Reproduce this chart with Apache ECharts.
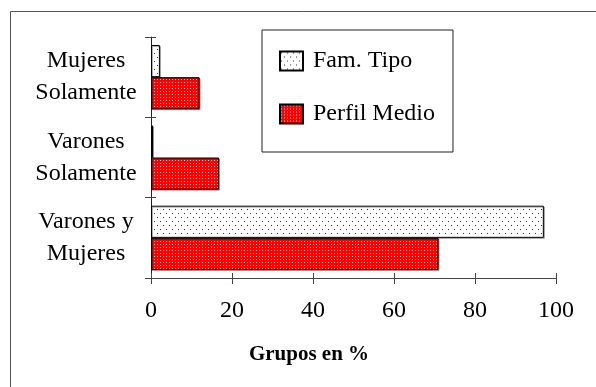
<!DOCTYPE html>
<html>
<head>
<meta charset="utf-8">
<script src="https://cdn.jsdelivr.net/npm/echarts@6/dist/echarts.min.js"></script>
<style>
  html, body { margin: 0; padding: 0; background: #fff; }
  #chart { width: 596px; height: 387px; }
</style>
</head>
<body>
<div id="chart"></div>
<script>
// Categories listed bottom to top along the vertical axis
const categories = ['Varones y\nMujeres', 'Varones\nSolamente', 'Mujeres\nSolamente'];
const famTipo = [97, 0.5, 2.2];
const perfilMedio = [71, 16.8, 12];
const xTicks = [0, 20, 40, 60, 80, 100];
const axisTitle = 'Grupos en %';
const seriesNames = ['Fam. Tipo', 'Perfil Medio'];

const FONT = '"Liberation Serif", "Times New Roman", serif';

// Dotted fill: sparse dark dots on white
function dotPattern() {
  const c = document.createElement('canvas');
  c.width = 6; c.height = 8;
  const g = c.getContext('2d');
  g.fillStyle = '#ffffff';
  g.fillRect(0, 0, 6, 8);
  g.fillStyle = '#333333';
  g.fillRect(1, 1, 1, 1);
  g.fillRect(4, 5, 1, 1);
  return c;
}
// Red fill with a fine grid of light dots
function redPattern() {
  const c = document.createElement('canvas');
  c.width = 3; c.height = 3;
  const g = c.getContext('2d');
  g.fillStyle = '#ff0000';
  g.fillRect(0, 0, 3, 3);
  g.fillStyle = '#ffc8c8';
  g.fillRect(1, 1, 1, 1);
  return c;
}

const famFill = { image: dotPattern(), repeat: 'repeat' };
const redFill = { image: redPattern(), repeat: 'repeat' };

const chart = echarts.init(document.getElementById('chart'), null, { renderer: 'canvas' });

const xCommon = {
  type: 'value', min: 0, max: 100, interval: 20,
  splitLine: { show: false }
};

chart.setOption({
  backgroundColor: '#ffffff',
  animation: false,
  title: {
    text: axisTitle,
    left: 304, top: 339, textAlign: 'center',
    textStyle: { fontFamily: FONT, fontWeight: 'bold', fontSize: 21, color: '#000' }
  },
  legend: {
    data: seriesNames,
    orient: 'vertical',
    left: 262, top: 30,
    padding: [19, 18, 26, 17],
    itemWidth: 23, itemHeight: 19, itemGap: 29,
    borderColor: '#222', borderWidth: 1,
    backgroundColor: '#fff',
    icon: 'rect',
    textStyle: { fontFamily: FONT, fontSize: 24, color: '#000', padding: [0, 0, 0, 5] }
  },
  grid: { left: 151, right: 40, top: 37, bottom: 109 },
  xAxis: [
    Object.assign({}, xCommon, {
      position: 'bottom',
      axisLine: { show: true, lineStyle: { color: '#444', width: 1 } },
      axisTick: { show: true, length: 6, lineStyle: { color: '#444' } },
      axisLabel: {
        margin: 21, fontFamily: FONT, fontSize: 24, color: '#000',
        formatter: v => (xTicks.indexOf(v) >= 0 ? String(v) : '')
      }
    }),
    Object.assign({}, xCommon, {
      position: 'bottom',
      axisLine: { show: false },
      axisTick: { show: true, inside: true, length: 5, lineStyle: { color: '#444' } },
      axisLabel: { show: false }
    })
  ],
  yAxis: [
    {
      type: 'category', data: categories, position: 'left',
      axisLine: { show: true, lineStyle: { color: '#222', width: 1 } },
      axisTick: { show: true, length: 6, lineStyle: { color: '#444' } },
      axisLabel: {
        margin: 65, align: 'center', fontFamily: FONT, fontSize: 24,
        lineHeight: 32, color: '#000', padding: [6, 0, 0, 0]
      }
    },
    {
      type: 'category', data: categories, position: 'left',
      axisLine: { show: false },
      axisTick: { show: true, inside: true, length: 5, lineStyle: { color: '#444' } },
      axisLabel: { show: false }
    }
  ],
  graphic: [
    {
      type: 'rect', z: -10, silent: true,
      shape: { x: 10.5, y: 11.5, width: 800, height: 600 },
      style: { fill: 'none', stroke: '#555', lineWidth: 1 }
    }
  ],
  series: [
    {
      name: seriesNames[0], type: 'bar', data: famTipo,
      barCategoryGap: '20%', barGap: '0%',
      itemStyle: {
        color: famFill, borderColor: '#000', borderWidth: 1,
        shadowColor: 'rgba(0,0,0,0.3)', shadowOffsetX: 1, shadowOffsetY: 1
      }
    },
    {
      name: seriesNames[1], type: 'bar', data: perfilMedio,
      barCategoryGap: '20%', barGap: '0%',
      itemStyle: {
        color: redFill, borderColor: '#000', borderWidth: 1,
        shadowColor: 'rgba(0,0,0,0.3)', shadowOffsetX: 1, shadowOffsetY: 1
      }
    }
  ]
});
</script>
</body>
</html>
